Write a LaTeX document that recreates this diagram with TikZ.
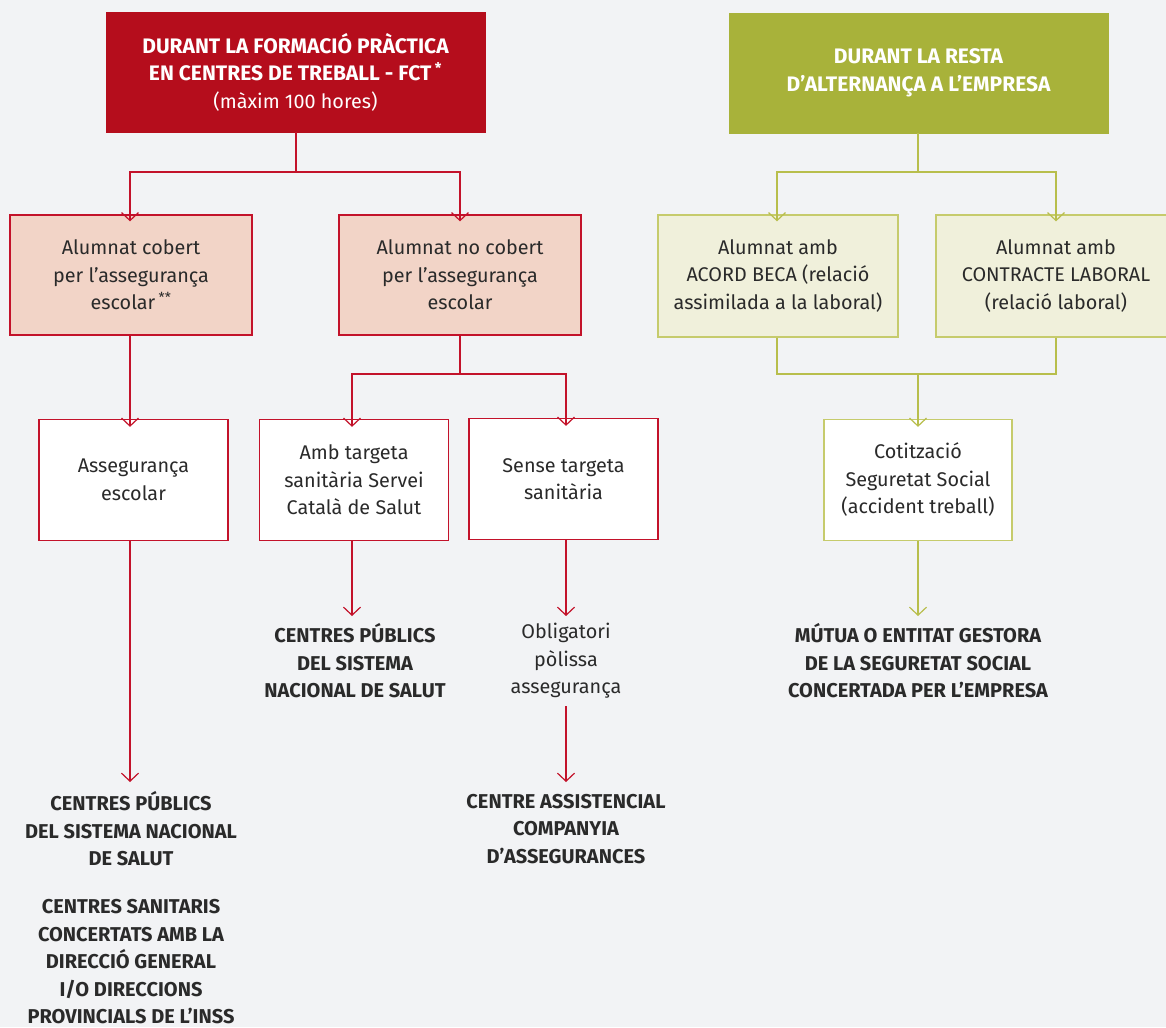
\documentclass[tikz,border=0pt]{standalone}
\usepackage{fontspec}
\setmainfont{Fira Sans}
\usetikzlibrary{arrows.meta}
\definecolor{bg}{HTML}{F2F3F5}
\definecolor{redfill}{HTML}{B50D1C}
\definecolor{redline}{HTML}{C3122A}
\definecolor{pinkfill}{HTML}{F2D4C7}
\definecolor{greenfill}{HTML}{A8B23A}
\definecolor{greenline}{HTML}{B8BE4C}
\definecolor{lgreenfill}{HTML}{F0F0DB}
\definecolor{lgreenline}{HTML}{C6CB6C}
\definecolor{txt}{HTML}{2A2A2A}
\newcommand{\headtxtfont}{\fontsize{21}{28}\selectfont\bfseries}
\begin{document}
\begin{tikzpicture}[x=1pt,y=-1pt,
  every node/.style={font=\fontsize{19.8}{27.5}\selectfont, text=txt, align=center, inner sep=0pt},
  redtop/.style={fill=redfill, draw=redfill, text=white, minimum width=379pt, minimum height=120pt},
  greentop/.style={fill=greenfill, draw=greenfill, text=white, minimum width=379pt, minimum height=120pt},
  pinkbox/.style={fill=pinkfill, draw=redline, line width=1.3pt, minimum width=242pt, minimum height=120pt},
  whitered/.style={fill=white, draw=redline, line width=1.3pt, minimum width=189pt, minimum height=121pt},
  lgbox/.style={fill=lgreenfill, draw=lgreenline, line width=1.3pt, minimum width=240pt, minimum height=122pt},
  whitegreen/.style={fill=white, draw=lgreenline, line width=1.3pt, minimum width=188pt, minimum height=121pt},
  boldtxt/.style={font=\fontsize{20}{27.5}\selectfont\bfseries},
  rarr/.style={draw=redline, line width=1.2pt, -{Straight Barb[length=8pt,width=17pt,line width=1.2pt]}},
  garr/.style={draw=greenline, line width=1.2pt, -{Straight Barb[length=8pt,width=17pt,line width=1.2pt]}},
  rline/.style={draw=redline, line width=1.2pt},
  gline/.style={draw=greenline, line width=1.2pt}
]
\fill[bg] (0,0) rectangle (1166,1027);
\useasboundingbox (0,0) rectangle (1166,1027);

% Left (red) side
\node[redtop] (fct) at (295.5,72) {{\headtxtfont DURANT LA FORMACIÓ PRÀCTICA}\\{\headtxtfont EN CENTRES DE TREBALL - FCT\,\textsuperscript{*}}\\(màxim 100 hores)};
\node[pinkbox] (cob) at (131,275) {Alumnat cobert\\per l’assegurança\\escolar\,\textsuperscript{**}};
\node[pinkbox] (nocob) at (460,275) {Alumnat no cobert\\per l’assegurança\\escolar};
\node[whitered] (ase) at (133.5,480) {Assegurança\\escolar};
\node[whitered] (amb) at (354,480) {Amb targeta\\sanitària Servei\\Català de Salut};
\node[whitered] (sense) at (563.5,479) {Sense targeta\\sanitària};
\node[boldtxt] (cp1) at (355,661) {CENTRES PÚBLICS\\DEL SISTEMA\\NACIONAL DE SALUT};
\node (obl) at (566,661) {Obligatori\\pòlissa\\assegurança};
\node[boldtxt] (cac) at (566,829) {CENTRE ASSISTENCIAL\\COMPANYIA\\D’ASSEGURANCES};
\node[boldtxt] (cp2) at (131,829) {CENTRES PÚBLICS\\DEL SISTEMA NACIONAL\\DE SALUT};
\node[boldtxt] (csan) at (131,962) {CENTRES SANITARIS\\CONCERTATS AMB LA\\DIRECCIÓ GENERAL\\I/O DIRECCIONS\\PROVINCIALS DE L’INSS};

\coordinate (fctj) at (296,172);
\coordinate (nocobj) at (460,374);
\coordinate (t_cp1) at (352,616);
\coordinate (t_obl) at (566,616);
\coordinate (t_cac) at (566,782);
\coordinate (t_cp2) at (130,782);
\coordinate (obl_b) at (566,706);

\draw[rline] (fct.south -| fctj) -- (fctj);
\draw[rarr] (fctj) -| ([yshift=-7pt]cob.north -| 130,0);
\draw[rarr] (fctj) -| ([yshift=-7pt]nocob.north);
\draw[rarr] (cob.south -| 130,0) -- ([yshift=-8pt]ase.north -| 130,0);
\draw[rline] (nocob.south) -- (nocobj);
\draw[rarr] (nocobj) -| ([yshift=-8pt]amb.north -| 352,0);
\draw[rarr] (nocobj) -| ([yshift=-8pt]sense.north -| 566,0);
\draw[rarr] (amb.south -| 352,0) -- (t_cp1);
\draw[rarr] (sense.south -| 566,0) -- (t_obl);
\draw[rarr] (obl_b) -- (t_cac);
\draw[rarr] (ase.south -| 130,0) -- (t_cp2);

% Right (green) side
\node[greentop] (rest) at (918.5,73) {{\headtxtfont DURANT LA RESTA}\\{\headtxtfont D’ALTERNANÇA A L’EMPRESA}};
\node[lgbox] (beca) at (778,276) {Alumnat amb\\ACORD BECA (relació\\assimilada a la laboral)};
\node[lgbox] (contr) at (1056,276) {Alumnat amb\\CONTRACTE LABORAL\\(relació laboral)};
\node[whitegreen] (cot) at (918,480) {Cotització\\Seguretat Social\\(accident treball)};
\node[boldtxt] (mut) at (918,661) {MÚTUA O ENTITAT GESTORA\\DE LA SEGURETAT SOCIAL\\CONCERTADA PER L’EMPRESA};

\coordinate (restj) at (918,172);
\coordinate (botj) at (918,374);
\coordinate (t_mut) at (918,616);

\draw[gline] (rest.south -| restj) -- (restj);
\draw[garr] (restj) -| ([yshift=-7pt]beca.north -| 777,0);
\draw[garr] (restj) -| ([yshift=-7pt]contr.north);
\draw[gline] (beca.south -| 777,0) |- (botj);
\draw[gline] (contr.south) |- (botj);
\draw[garr] (botj) -- ([yshift=-8pt]cot.north);
\draw[garr] (cot.south) -- (t_mut);
\end{tikzpicture}
\end{document}
